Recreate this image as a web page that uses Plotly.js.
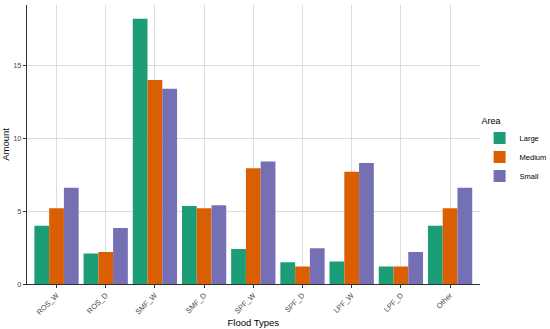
<!DOCTYPE html>
<html>
<head>
<meta charset="utf-8">
<script src="https://cdn.plot.ly/plotly-3.0.1.min.js"></script>
<style>html,body{margin:0;padding:0;background:#fff;}#chart{width:550px;height:329px;}</style>
</head>
<body>
<div id="chart"></div>
<script>
var categories = ["ROS_W", "ROS_D", "SMF_W", "SMF_D", "SPF_W", "SPF_D", "LPF_W", "LPF_D", "Other"];
var largeValues = [4.0, 2.1, 18.2, 5.35, 2.4, 1.5, 1.55, 1.2, 4.0];
var mediumValues = [5.2, 2.2, 14.0, 5.2, 7.95, 1.2, 7.7, 1.2, 5.2];
var smallValues = [6.6, 3.85, 13.4, 5.4, 8.4, 2.45, 8.3, 2.2, 6.6];
var seriesNames = ["Large", "Medium", "Small"];
var yTicks = [0, 5, 10, 15];

var colors = ["#1B9E77", "#D95F02", "#7570B3"];
var seriesValues = [largeValues, mediumValues, smallValues];
var traces = seriesValues.map(function (vals, i) {
  return {
    type: "bar",
    name: seriesNames[i],
    x: categories,
    y: vals,
    marker: { color: colors[i], line: { width: 0 } },
    hoverinfo: "x+y+name"
  };
});

var layout = {
  width: 550,
  height: 329,
  margin: { l: 27, r: 64, t: 5, b: 45 },
  paper_bgcolor: "#ffffff",
  plot_bgcolor: "#ffffff",
  barmode: "group",
  bargap: 0.1,
  bargroupgap: 0,
  font: { family: "Liberation Sans, Arial, sans-serif", color: "#4d4d4d", size: 7.5 },
  xaxis: {
    type: "category",
    range: [-0.6, 8.6],
    showgrid: true,
    gridcolor: "#dcdcdc",
    gridwidth: 1,
    showline: true,
    linecolor: "#333333",
    linewidth: 1,
    ticks: "outside",
    ticklen: 3,
    tickcolor: "#333333",
    tickangle: -45,
    tickfont: { size: 7.5, color: "#4d4d4d" },
    title: { text: "Flood Types", font: { size: 9.5, color: "#000000" }, standoff: 3 },
    zeroline: false
  },
  yaxis: {
    range: [0, 19.15],
    tickvals: yTicks,
    ticktext: yTicks.map(String),
    showgrid: true,
    gridcolor: "#dcdcdc",
    gridwidth: 1,
    showline: true,
    linecolor: "#333333",
    linewidth: 1,
    ticks: "outside",
    ticklen: 3,
    tickcolor: "#333333",
    tickfont: { size: 7.5, color: "#4d4d4d" },
    title: { text: "Amount", font: { size: 9.5, color: "#000000" }, standoff: 2 },
    zeroline: false
  },
  legend: {
    xref: "container",
    x: 0.872,
    xanchor: "left",
    yref: "container",
    y: 0.54,
    yanchor: "middle",
    title: { text: "Area", font: { size: 9, color: "#000000" } },
    font: { size: 7.5, color: "#000000" },
    tracegroupgap: 0,
    itemwidth: 30
  },
  showlegend: true
};

Plotly.newPlot("chart", traces, layout, { displayModeBar: false, staticPlot: true });
</script>
</body>
</html>
